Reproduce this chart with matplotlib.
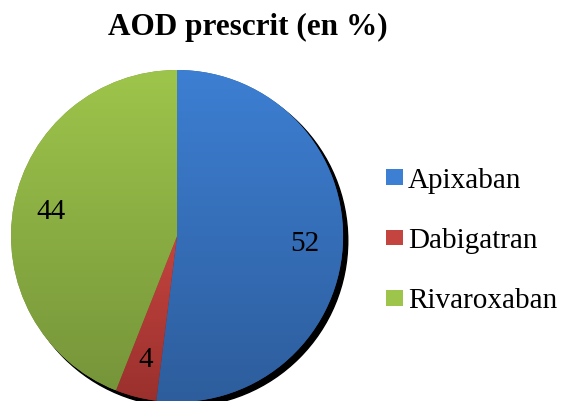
import numpy as np
import matplotlib.pyplot as plt
from matplotlib.patches import Circle, Patch
from matplotlib.colors import LinearSegmentedColormap

plt.rcParams['font.family'] = ['Liberation Serif', 'DejaVu Serif']

# data
labels = ['Apixaban', 'Dabigatran', 'Rivaroxaban']
values = [52, 4, 44]
colors_top = ['#3D7FD3', '#C4443F', '#9EC54B']
colors_bottom = ['#2D5D9C', '#9A302D', '#76953A']
title = 'AOD prescrit (en %)'

fig = plt.figure(figsize=(5.61, 4.01), dpi=100)
# pie centre ~ (177, 236) px, radius ~166 px
ax = fig.add_axes([0.0196, -0.0025, 0.592, 0.828])
ax.set_xlim(-1, 1)
ax.set_ylim(-1, 1)
ax.set_aspect('equal')
ax.axis('off')

# drop shadow
ax.add_patch(Circle((0.028, -0.028), 1.0, color='black', zorder=0, clip_on=False))

wedges, _, autotexts = ax.pie(values, startangle=90, counterclock=False, radius=1.0,
                              autopct='%.0f', pctdistance=0.77,
                              wedgeprops=dict(linewidth=0, zorder=1),
                              textprops=dict(fontsize=21, color='black'))

# vertical gradient in each slice
for w, ct, cb in zip(wedges, colors_top, colors_bottom):
    ext = w.get_path().get_extents()
    cmap = LinearSegmentedColormap.from_list('g', [cb, ct])
    grad = np.linspace(0, 1, 256).reshape(-1, 1)
    im = ax.imshow(grad, cmap=cmap, origin='lower', aspect='auto',
                   extent=[ext.x0, ext.x1, ext.y0, ext.y1], zorder=1.5)
    im.set_clip_path(w)
    w.set_facecolor(cb)

for t in autotexts:
    t.set_zorder(5)

ax.set_xlim(-1, 1)
ax.set_ylim(-1, 1)

fig.text(0.442, 0.932, title, ha='center', va='center', fontsize=22.5, fontweight='bold')

handles = [Patch(facecolor=c) for c in colors_top]
fig.legend(handles, labels, loc='center left', bbox_to_anchor=(0.641, 0.399),
           frameon=False, fontsize=21, handlelength=0.6, handleheight=0.45,
           handletextpad=0.15, labelspacing=1.18)

fig.savefig('out.png', dpi=100)
